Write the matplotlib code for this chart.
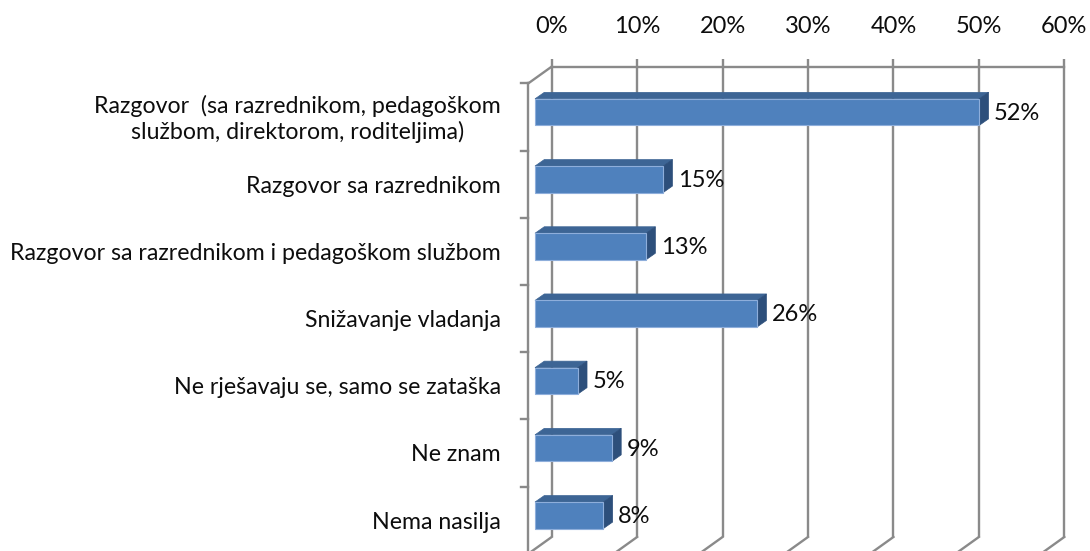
import matplotlib
matplotlib.use("Agg")
import matplotlib.pyplot as plt
from matplotlib.patches import Polygon

# ---------------- data ----------------
categories = [
    "Razgovor  (sa razrednikom, pedagoškom\nslužbom, direktorom, roditeljima)",
    "Razgovor sa razrednikom",
    "Razgovor sa razrednikom i pedagoškom službom",
    "Snižavanje vladanja",
    "Ne rješavaju se, samo se zataška",
    "Ne znam",
    "Nema nasilja",
]
values = [52, 15, 13, 26, 5, 9, 8]
value_labels = ["52%", "15%", "13%", "26%", "5%", "9%", "8%"]
x_ticks = [0, 10, 20, 30, 40, 50, 60]
x_tick_labels = ["0%", "10%", "20%", "30%", "40%", "50%", "60%"]

# ---------------- style ----------------
FONT = "Lato"
W_PX, H_PX = 1090, 551
FRONT_FACE = "#4F81BD"
FRONT_EDGE = "#8EAEDB"
TOP_FACE = "#3D6595"
SIDE_FACE = "#2D4F7B"
GRID = "#8A8A8A"
TEXT = "#0d0d0d"

fig = plt.figure(figsize=(W_PX / 100, H_PX / 100), dpi=100)

# front plane of the 3D box, in pixels
x0_px, x60_px = 528.4, 1041.0
ytop_px, ybot_px = 83.3, 553.7
ax = fig.add_axes([x0_px / W_PX, (H_PX - ybot_px) / H_PX,
                   (x60_px - x0_px) / W_PX, (ybot_px - ytop_px) / H_PX])
n = len(categories)
ax.set_xlim(0, 60)
ax.set_ylim(n - 0.5, -0.5)
ax.axis("off")

px_x = 60 / (x60_px - x0_px)          # data units per pixel (x)
px_y = n / (ybot_px - ytop_px)         # data units per pixel (y)

BACK_DX, BACK_DY = 23.3 * px_x, -16.7 * px_y
BAR_DX0, BAR_DY0 = 6.6 * px_x, -4.8 * px_y
DEP_DX, DEP_DY = 9.3 * px_x, -6.5 * px_y
BAR_H = 26.5 * px_y
TICK_UP = 8 * px_y
LW = 1.7

top_y = -0.5
bot_y = n - 0.5

# back wall gridlines (with tick marks above)
for t in x_ticks:
    ax.plot([t + BACK_DX, t + BACK_DX], [top_y + BACK_DY - TICK_UP, bot_y + BACK_DY],
            color=GRID, lw=LW, clip_on=False, solid_capstyle="butt", zorder=1)
    # floor diagonals
    ax.plot([t + BACK_DX, t], [bot_y + BACK_DY, bot_y],
            color=GRID, lw=LW, clip_on=False, zorder=1)
# back wall top edge
ax.plot([BACK_DX, 60 + BACK_DX], [top_y + BACK_DY, top_y + BACK_DY],
        color=GRID, lw=LW, clip_on=False, zorder=1)
# left wall top diagonal and front vertical axis
ax.plot([BACK_DX, 0], [top_y + BACK_DY, top_y], color=GRID, lw=LW, clip_on=False, zorder=1)
ax.plot([0, 0], [top_y, bot_y], color=GRID, lw=LW, clip_on=False, zorder=1)
ax.plot([0, 60], [bot_y, bot_y], color=GRID, lw=LW, clip_on=False, zorder=1)
# category tick marks
for k in range(n + 1):
    yk = k - 0.5
    ax.plot([-7 * px_x, 0], [yk, yk], color=GRID, lw=LW, clip_on=False, zorder=1)

# 3D bars
for i, v in enumerate(values):
    xl = BAR_DX0
    xr = BAR_DX0 + v
    yc = i + BAR_DY0
    yt, yb = yc - BAR_H / 2, yc + BAR_H / 2
    top = Polygon([(xl, yt), (xr, yt), (xr + DEP_DX, yt + DEP_DY), (xl + DEP_DX, yt + DEP_DY)],
                  closed=True, facecolor=TOP_FACE, edgecolor=TOP_FACE, lw=0.5, zorder=3)
    side = Polygon([(xr, yt), (xr, yb), (xr + DEP_DX, yb + DEP_DY), (xr + DEP_DX, yt + DEP_DY)],
                   closed=True, facecolor=SIDE_FACE, edgecolor=SIDE_FACE, lw=0.5, zorder=3)
    front = Polygon([(xl, yt), (xr, yt), (xr, yb), (xl, yb)],
                    closed=True, facecolor=FRONT_FACE, edgecolor=FRONT_EDGE, lw=0.8, zorder=4)
    for p in (top, side, front):
        p.set_clip_on(False)
        ax.add_patch(p)
    ax.text(xr + DEP_DX + 5.5 * px_x, yc + 1 * px_y, value_labels[i], ha="left", va="center",
            fontsize=17, family=FONT, color=TEXT, zorder=5)

# category labels
for i, c in enumerate(categories):
    ax.text(-27.5 * px_x, i + 2 * px_y, c, ha="right", va="center", multialignment="center",
            fontsize=16.7, family=FONT, color=TEXT, linespacing=1.25)

# top axis tick labels (centered on back wall gridlines)
for t, lab in zip(x_ticks, x_tick_labels):
    ax.text(t + BACK_DX, top_y + BACK_DY - 40 * px_y, lab, ha="center", va="center",
            fontsize=17, family=FONT, color=TEXT)

fig.savefig("out.png", dpi=100, facecolor="white")
